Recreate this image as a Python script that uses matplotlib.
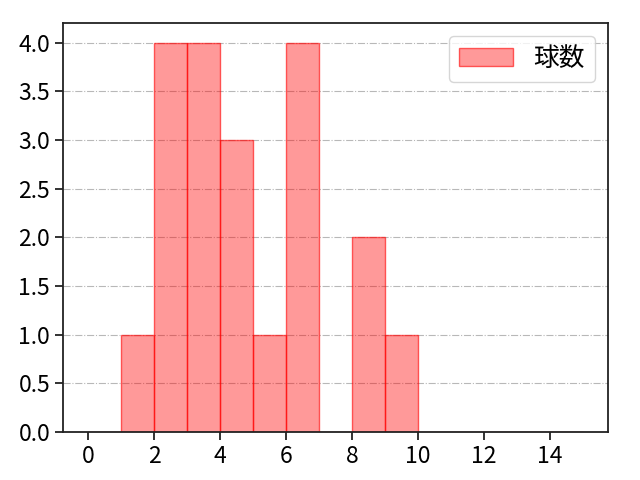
import matplotlib
matplotlib.use("Agg")
import matplotlib.pyplot as plt
import numpy as np

plt.rcParams['font.family'] = ['Noto Sans CJK JP', 'DejaVu Sans']
plt.rcParams['font.size'] = 16.5

bin_edges = list(range(0, 16))
counts = [0, 1, 4, 4, 3, 1, 4, 0, 2, 1, 0, 0, 0, 0, 0]
label = "球数"
y_ticks = [0.0, 0.5, 1.0, 1.5, 2.0, 2.5, 3.0, 3.5, 4.0]

fig, ax = plt.subplots(figsize=(6.4, 4.8), dpi=100)
ax.hist(bin_edges[:-1], bins=bin_edges, weights=counts, facecolor=(1, 0, 0, 0.4),
        edgecolor=(1, 0, 0, 0.6), linewidth=1.0, label=label)
ax.grid(axis='y', linestyle='-.', color='#b8b8b8')
ax.set_axisbelow(True)
ax.set_xticks(range(0, 16, 2))
ax.set_yticks(y_ticks)
ax.set_yticklabels([f"{v:.1f}" for v in y_ticks])
ax.legend(loc='upper right', fontsize=18.5, handlelength=2.1)
for s in ax.spines.values():
    s.set_linewidth(1.3)
    s.set_color('#222222')
ax.tick_params(length=6, width=1.3, color='#222222')
fig.subplots_adjust(left=0.099, right=0.95, top=0.952, bottom=0.10)
fig.savefig("out.png")
